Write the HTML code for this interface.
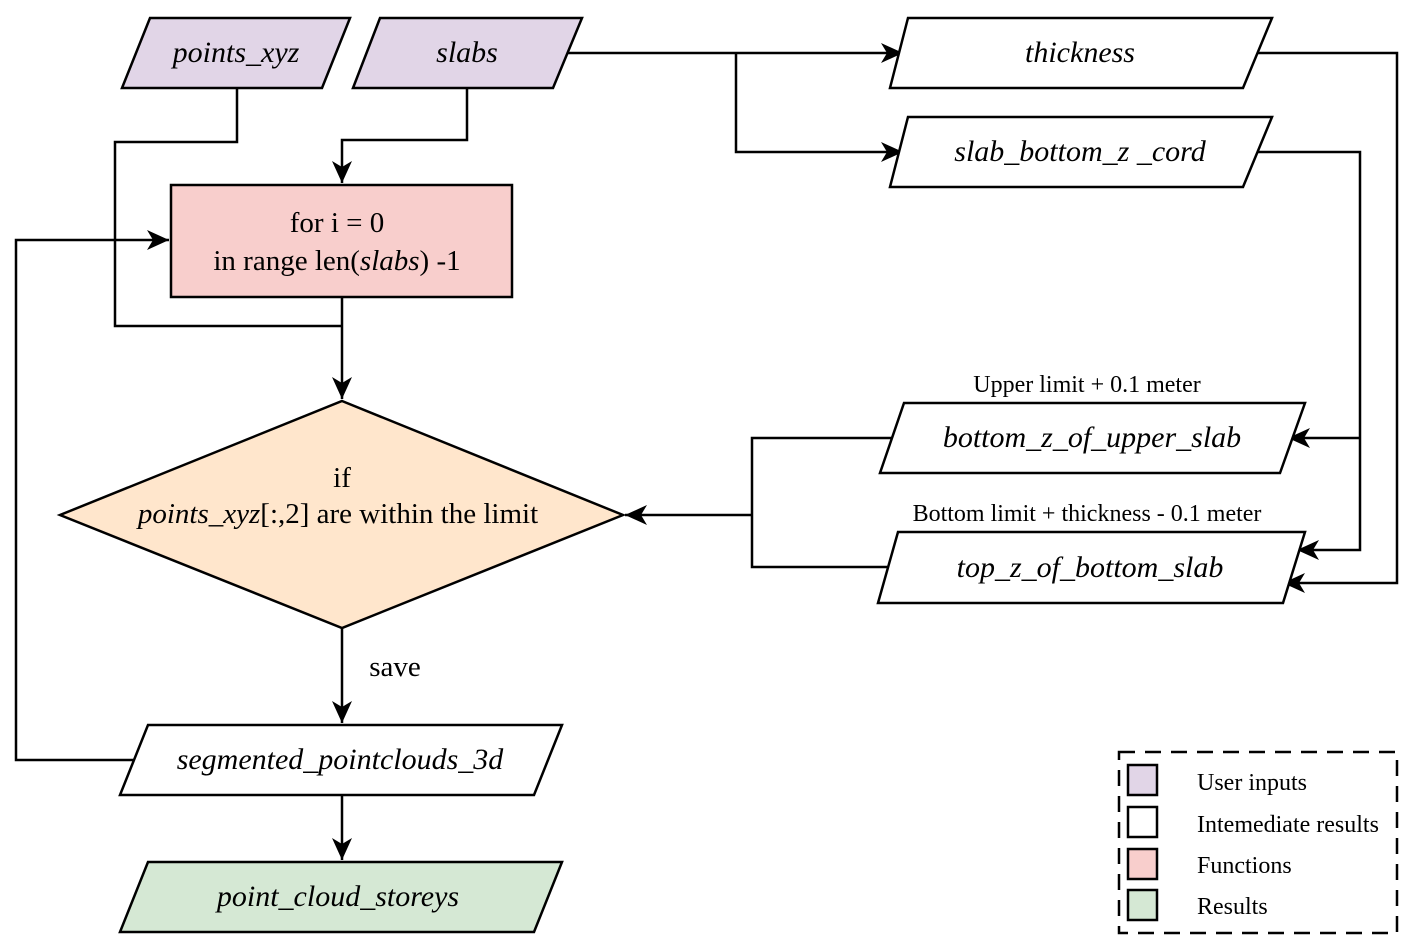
<!DOCTYPE html>
<html><head><meta charset="utf-8"><style>
html,body{margin:0;padding:0;background:#fff;}
svg{display:block;}
svg text{font-family:"Liberation Serif","DejaVu Serif","Times New Roman",serif;fill:#000;}
.i{font-style:italic;font-size:30px;}
.n{font-size:29px;}
.s{font-size:24px;}
</style></head><body>
<svg width="1413" height="950" viewBox="0 0 1413 950" xmlns="http://www.w3.org/2000/svg" font-family="Liberation Serif, serif">
<defs>
<marker id="a" markerWidth="24" markerHeight="20" refX="22" refY="10" orient="auto" markerUnits="userSpaceOnUse">
<path d="M0,0 L22,10 L0,20 L6,10 Z" fill="#000"/>
</marker>
</defs>
<g stroke="#000" stroke-width="2.5" fill="none">
<polyline points="237,88 237,142 115,142 115,326 342,326"/>
<polyline points="467,88 467,140 342,140 342,183" marker-end="url(#a)"/>
<polyline points="342,297 342,399" marker-end="url(#a)"/>
<polyline points="135,760 16,760 16,240 169,240" marker-end="url(#a)"/>
<polyline points="565,53 903,53" marker-end="url(#a)"/>
<polyline points="736,53 736,152 903,152" marker-end="url(#a)"/>
<polyline points="1258,53 1397,53 1397,583 1283,583" marker-end="url(#a)"/>
<polyline points="1255,152 1360,152 1360,550 1297,550" marker-end="url(#a)"/>
<polyline points="1360,438 1288,438" marker-end="url(#a)"/>
<polyline points="895,438 752,438 752,567 895,567"/>
<polyline points="752,515 625,515" marker-end="url(#a)"/>
<polyline points="342,628 342,723" marker-end="url(#a)"/>
<polyline points="342,795 342,860" marker-end="url(#a)"/>
</g>
<g stroke="#000" stroke-width="2.5">
<polygon points="150,18 350,18 322,88 122,88" fill="#e1d5e7"/>
<polygon points="380,18 582,18 553,88 353,88" fill="#e1d5e7"/>
<polygon points="908,18 1272,18 1243,88 890,88" fill="#fff"/>
<polygon points="908,117 1272,117 1243,187 890,187" fill="#fff"/>
<rect x="171" y="185" width="341" height="112" fill="#f8cecc"/>
<polygon points="342,401 623,515 342,628 60,515" fill="#ffe6cc"/>
<polygon points="904,403 1305,403 1280,473 880,473" fill="#fff"/>
<polygon points="898,532 1305,532 1283,603 878,603" fill="#fff"/>
<polygon points="148,725 562,725 534,795 120,795" fill="#fff"/>
<polygon points="148,862 562,862 534,932 120,932" fill="#d5e8d4"/>
<rect x="1128" y="765" width="29" height="30" fill="#e1d5e7"/>
<rect x="1128" y="807" width="29" height="30" fill="#fff"/>
<rect x="1128" y="849" width="29" height="30" fill="#f8cecc"/>
<rect x="1128" y="890" width="29" height="30" fill="#d5e8d4"/>
</g>
<rect x="1119" y="752" width="278" height="181" fill="none" stroke="#000" stroke-width="2.5" stroke-dasharray="16,10"/>
<g text-anchor="middle">
<text class="i" x="236" y="62">points_xyz</text>
<text class="i" x="467" y="62">slabs</text>
<text class="i" x="1080" y="62">thickness</text>
<text class="i" x="1080" y="161">slab_bottom_z _cord</text>
<text class="n" x="337" y="232">for i = 0</text>
<text class="n" x="337" y="270">in range len(<tspan font-style="italic">slabs</tspan>) -1</text>
<text class="n" x="342" y="487">if</text>
<text class="n" x="338" y="523"><tspan font-style="italic">points_xyz</tspan>[:,2] are within the limit</text>
<text class="s" x="1087" y="392">Upper limit + 0.1 meter</text>
<text class="i" x="1092" y="447">bottom_z_of_upper_slab</text>
<text class="s" x="1087" y="521">Bottom limit + thickness - 0.1 meter</text>
<text class="i" x="1090" y="577">top_z_of_bottom_slab</text>
<text class="n" x="395" y="676">save</text>
<text class="i" x="340" y="769">segmented_pointclouds_3d</text>
<text class="i" x="338" y="906">point_cloud_storeys</text>
</g>
<g>
<text x="1197" y="790" style="font-size:24px">User inputs</text>
<text x="1197" y="832" style="font-size:24px">Intemediate results</text>
<text x="1197" y="873" style="font-size:24px">Functions</text>
<text x="1197" y="914" style="font-size:24px">Results</text>
</g>
</svg>
</body></html>
